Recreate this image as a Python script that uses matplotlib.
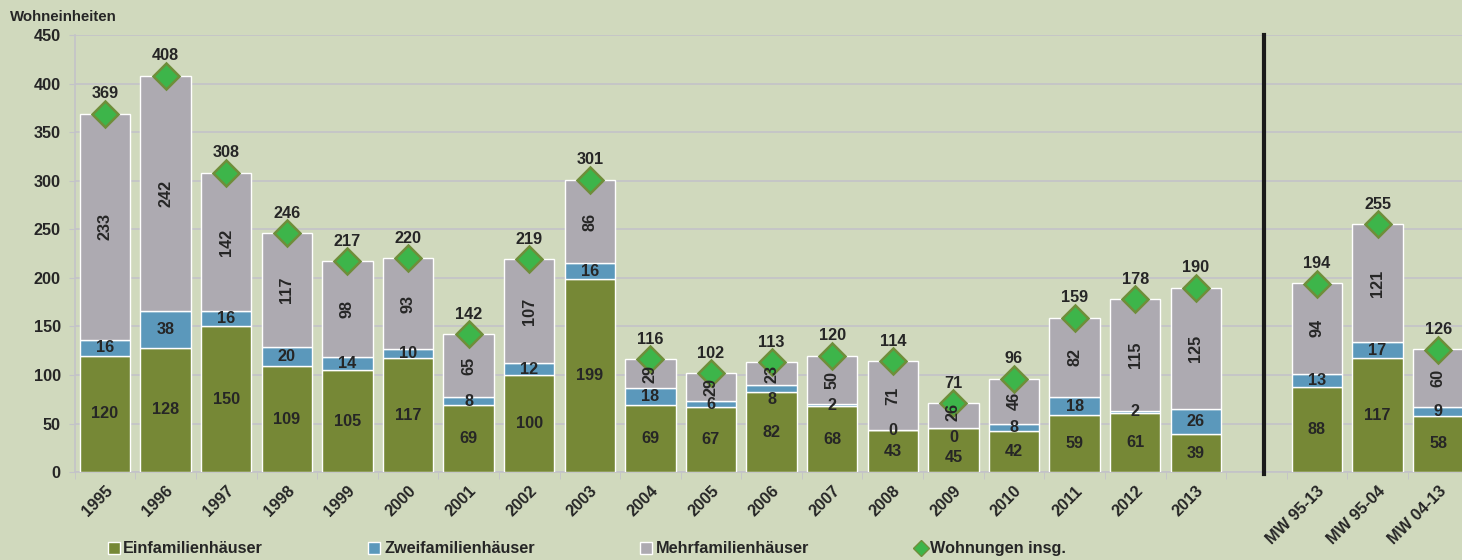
import numpy as np
import matplotlib.pyplot as plt
from matplotlib.lines import Line2D

plt.rcParams['font.family'] = ['Liberation Sans', 'DejaVu Sans']
plt.rcParams['font.weight'] = 'bold'

# Daten
kategorien = ['1995', '1996', '1997', '1998', '1999', '2000', '2001', '2002', '2003', '2004',
              '2005', '2006', '2007', '2008', '2009', '2010', '2011', '2012', '2013',
              'MW 95-13', 'MW 95-04', 'MW 04-13']
efh = [120, 128, 150, 109, 105, 117, 69, 100, 199, 69, 67, 82, 68, 43, 45, 42, 59, 61, 39, 88, 117, 58]
zfh = [16, 38, 16, 20, 14, 10, 8, 12, 16, 18, 6, 8, 2, 0, 0, 8, 18, 2, 26, 13, 17, 9]
mfh = [233, 242, 142, 117, 98, 93, 65, 107, 86, 29, 29, 23, 50, 71, 26, 46, 82, 115, 125, 94, 121, 60]
gesamt = [369, 408, 308, 246, 217, 220, 142, 219, 301, 116, 102, 113, 120, 114, 71, 96, 159, 178, 190,
          194, 255, 126]

# kleine Verschiebungen einzelner Beschriftungen (Punkte), wo sie sich sonst überdecken
versatz = {('2006', 'zfh'): -8, ('2009', 'zfh'): -6.5, ('2009', 'efh'): -5, ('2009', 'mfh'): 3}

c_efh = '#768836'
c_zfh = '#5b98bb'
c_mfh = '#adaab1'
c_bg = '#d0d9bd'
c_txt = '#262626'

efh = np.array(efh)
zfh = np.array(zfh)
mfh = np.array(mfh)

# 19 Jahre, eine Lücke, dann 3 Mittelwerte
x = np.array(list(range(19)) + [20, 21, 22])

fig = plt.figure(figsize=(14.62, 5.6), dpi=100, facecolor=c_bg)
ax = fig.add_axes([74.7 / 1462, 0.157, 1393.8 / 1462, 0.7804])
ax.set_facecolor(c_bg)

w = 0.83
ax.bar(x, efh, w, color=c_efh, edgecolor='white', linewidth=1, zorder=3)
ax.bar(x, zfh, w, bottom=efh, color=c_zfh, edgecolor='white', linewidth=1, zorder=3)
ax.bar(x, mfh, w, bottom=efh + zfh, color=c_mfh, edgecolor='white', linewidth=1, zorder=3)
ax.plot(x, gesamt, linestyle='none', marker='D', markersize=13, markerfacecolor='#3db54a',
        markeredgecolor='#6f8e3a', markeredgewidth=1.8, zorder=5)

fs = 11.7
for k, xi, a, b, c, t in zip(kategorien, x, efh, zfh, mfh, gesamt):
    for name, y, val, rot in [('efh', a / 2, a, 0), ('zfh', a + b / 2, b, 0),
                              ('mfh', a + b + c / 2, c, 90)]:
        ax.annotate(str(val), (xi, y), xytext=(0, versatz.get((k, name), 0)),
                    textcoords='offset points', ha='center', va='center', rotation=rot,
                    fontsize=fs, color=c_txt, zorder=6)
    ax.annotate(str(t), (xi, t), xytext=(0, 9), textcoords='offset points', ha='center',
                va='bottom', fontsize=fs, color=c_txt, zorder=6)

# Trennlinie zwischen Jahren und Mittelwerten
ax.plot([19.13, 19.13], [-2, 450], color='#1a1a1a', linewidth=3, zorder=4, clip_on=False)

ax.set_xlim(-0.5, 22.5)
ax.set_ylim(0, 450)
ax.set_yticks(np.arange(0, 451, 50))
ax.yaxis.grid(True, color='#c3c3c8', linewidth=1.2, zorder=0)
ax.tick_params(axis='y', labelsize=fs, colors=c_txt, length=4, color='#c3c3c8', pad=6)

ax.set_xticks(x)
ax.set_xticklabels(kategorien, rotation=45, ha='right', va='top', rotation_mode='anchor',
                   fontsize=fs, color=c_txt)
ax.tick_params(axis='x', length=0, pad=8)
ax.set_xticks(np.arange(-0.5, 23, 1), minor=True)
ax.tick_params(axis='x', which='minor', length=5, color='#c3c3c8')

for s in ['top', 'right']:
    ax.spines[s].set_visible(False)
ax.spines['left'].set_color('#c3c3c8')
ax.spines['bottom'].set_color('#c3c3c8')
ax.spines['left'].set_linewidth(1.2)
ax.spines['bottom'].set_linewidth(1.2)

fig.text(10 / 1462, 1 - 17 / 560, 'Wohneinheiten', fontsize=10.8, color=c_txt, va='center')

handles = [
    Line2D([], [], linestyle='none', marker='s', markersize=8, markerfacecolor=c_efh,
           markeredgecolor='white'),
    Line2D([], [], linestyle='none', marker='s', markersize=8, markerfacecolor=c_zfh,
           markeredgecolor='white'),
    Line2D([], [], linestyle='none', marker='s', markersize=8, markerfacecolor=c_mfh,
           markeredgecolor='white'),
    Line2D([], [], linestyle='none', marker='D', markersize=8, markerfacecolor='#3db54a',
           markeredgecolor='#6f8e3a'),
]
fig.legend(handles, ['Einfamilienhäuser', 'Zweifamilienhäuser', 'Mehrfamilienhäuser',
                     'Wohnungen insg.'],
           loc='center left', bbox_to_anchor=(107 / 1462, 0.02), ncol=4, frameon=False,
           handlelength=0.8, handletextpad=0.2, columnspacing=6.45, fontsize=fs,
           labelcolor=c_txt, borderpad=0, borderaxespad=0)

fig.savefig('out.png', dpi=100, facecolor=c_bg)
